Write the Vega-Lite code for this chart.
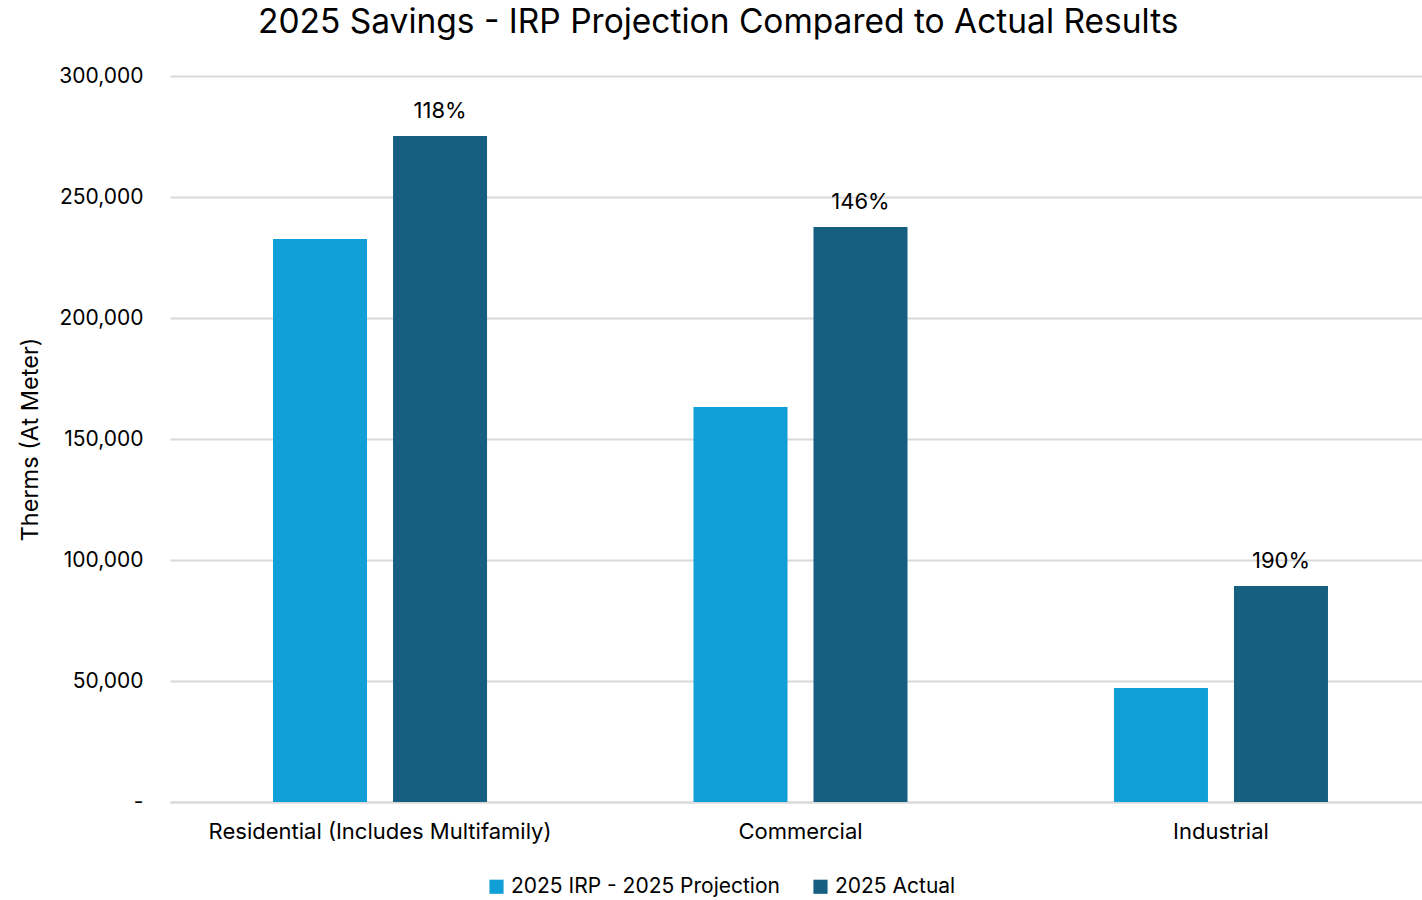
{
  "$schema": "https://vega.github.io/schema/vega-lite/v6.json",
  "width": 1261,
  "height": 726,
  "autosize": "none",
  "padding": {"left": 170, "top": 76, "right": 0, "bottom": 98},
  "background": "white",
  "config": {
    "font": "Inter",
    "view": {"stroke": null}
  },
  "title": {
    "text": "2025 Savings - IRP Projection Compared to Actual Results",
    "fontSize": 33.5,
    "fontWeight": "normal",
    "color": "#000000",
    "anchor": "start",
    "frame": "group",
    "dx": 88,
    "offset": 25
  },
  "data": {
    "values": [
      {"category": "Residential (Includes Multifamily)", "series": "2025 IRP - 2025 Projection", "therms": 232600, "label": ""},
      {"category": "Residential (Includes Multifamily)", "series": "2025 Actual", "therms": 275200, "label": "118%"},
      {"category": "Commercial", "series": "2025 IRP - 2025 Projection", "therms": 163200, "label": ""},
      {"category": "Commercial", "series": "2025 Actual", "therms": 237600, "label": "146%"},
      {"category": "Industrial", "series": "2025 IRP - 2025 Projection", "therms": 47100, "label": ""},
      {"category": "Industrial", "series": "2025 Actual", "therms": 89300, "label": "190%"}
    ]
  },
  "encoding": {
    "x": {
      "field": "category",
      "type": "nominal",
      "sort": null,
      "scale": {"paddingInner": 0.491, "paddingOuter": 0.245},
      "axis": {
        "title": null,
        "labelAngle": 0,
        "labelFontSize": 22,
        "labelColor": "#000000",
        "labelPadding": 19,
        "labelLimit": 0,
        "ticks": false,
        "domain": true,
        "domainColor": "#D9D9D9",
        "domainWidth": 2
      }
    },
    "xOffset": {
      "field": "series",
      "type": "nominal",
      "sort": ["2025 IRP - 2025 Projection", "2025 Actual"],
      "scale": {"paddingInner": 0.2167, "paddingOuter": 0}
    },
    "y": {
      "field": "therms",
      "type": "quantitative",
      "scale": {"domain": [0, 300000]},
      "axis": {
        "title": "Therms (At Meter)",
        "titleFontSize": 23.5,
        "titleFontWeight": "normal",
        "titleColor": "#000000",
        "titlePadding": 16,
        "values": [0, 50000, 100000, 150000, 200000, 250000, 300000],
        "labelExpr": "datum.value == 0 ? '-\u2007' : format(datum.value, ',')",
        "labelFontSize": 21,
        "labelColor": "#000000",
        "labelPadding": 27,
        "ticks": false,
        "domain": false,
        "grid": true,
        "gridColor": "#D9D9D9",
        "gridWidth": 2
      }
    }
  },
  "layer": [
    {
      "mark": {"type": "bar"},
      "encoding": {
        "color": {
          "field": "series",
          "type": "nominal",
          "sort": ["2025 IRP - 2025 Projection", "2025 Actual"],
          "scale": {"domain": ["2025 IRP - 2025 Projection", "2025 Actual"], "range": ["#119FD7", "#175F80"]},
          "legend": {
            "title": null,
            "orient": "none",
            "direction": "horizontal",
            "legendX": 316,
            "legendY": 800,
            "symbolType": "square",
            "symbolSize": 200,
            "symbolStrokeWidth": 0,
            "labelFontSize": 21,
            "labelColor": "#000000",
            "labelLimit": 0,
            "columnPadding": 30,
            "labelOffset": 4
          }
        }
      }
    },
    {
      "mark": {"type": "text", "baseline": "bottom", "dy": -13, "fontSize": 22, "color": "#000000"},
      "encoding": {
        "text": {"field": "label"}
      }
    }
  ]
}
